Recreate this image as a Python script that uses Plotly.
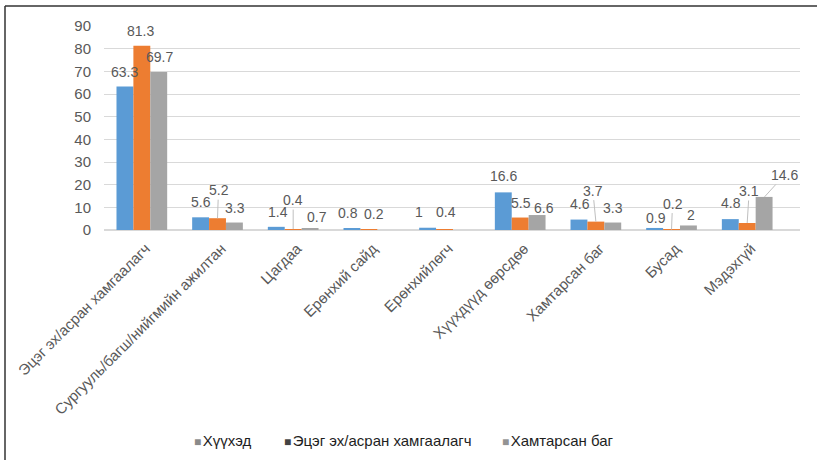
import plotly.graph_objects as go

# ---------------- data ----------------
categories = [
    "Эцэг эх/асран хамгаалагч",
    "Сургууль/багш/нийгмийн ажилтан",
    "Цагдаа",
    "Ерөнхий сайд",
    "Ерөнхийлөгч",
    "Хүүхдүүд өөрсдөө",
    "Хамтарсан баг",
    "Бусад",
    "Мэдэхгүй",
]
series_names = ["Хүүхэд", "Эцэг эх/асран хамгаалагч", "Хамтарсан баг"]
children = [63.3, 5.6, 1.4, 0.8, 1, 16.6, 4.6, 0.9, 4.8]
parents = [81.3, 5.2, 0.4, 0.2, 0.4, 5.5, 3.7, 0.2, 3.1]
team = [69.7, 3.3, 0.7, None, None, 6.6, 3.3, 2, 14.6]
y_ticks = [0, 10, 20, 30, 40, 50, 60, 70, 80, 90]

# ---------------- styles ----------------
bar_colors = ["#5B9BD5", "#ED7D31", "#A5A5A5"]
legend_colors = ["#8a8a8a", "#434343", "#939393"]
legend_px = [192, 282, 500]  # left edge of each legend item (px)
FONT = "Liberation Sans, Arial, sans-serif"
W, H = 817, 460
ML, MR, MT, MB = 104, 17, 26, 230
BAR_STEP = 17.3  # px between bar centres within a group

# label pixel offsets (dx from bar centre, dy above bar top, leader line flag)
label_dx = [
    [0, 1, 2, -4, -8, 1, 1, 2, 1],
    [-1, 1, 0, 5, 1, 1, -3, 1, 2],
    [0, 0, 7, 0, 0, 7, 0, 2, 20],
]
label_dy = [
    [15, 15, 15, 15, 16, 16, 16, 10, 16],
    [15, 28, 29, 16, 17, 15, 31, 26, 32],
    [15, 15, 11, 0, 0, 7, 15, 10, 22],
]
leader = [
    [0] * 9,
    [0, 1, 1, 0, 0, 0, 1, 1, 1],
    [0, 0, 0, 0, 0, 0, 0, 0, 1],
]

series = [children, parents, team]
fig = go.Figure()
for i, vals in enumerate(series):
    fig.add_trace(go.Bar(
        x=categories, y=vals, name=series_names[i],
        marker=dict(color=bar_colors[i], line=dict(width=0)),
        showlegend=False, hoverinfo="x+y",
    ))

pw = W - ML - MR
ph = H - MT - MB

annotations = []
for i, vals in enumerate(series):
    off = (i - 1) * BAR_STEP
    for j, v in enumerate(vals):
        if v is None:
            continue
        dx = label_dx[i][j]
        dy = label_dy[i][j]
        txt = f"{v:g}"
        if leader[i][j]:
            annotations.append(dict(
                x=categories[j], y=v, xref="x", yref="y",
                text=txt, showarrow=True, arrowhead=0, arrowwidth=1,
                arrowcolor="#bfbfbf", ax=dx, ay=-dy, xshift=off,
                font=dict(family=FONT, size=14, color="#595959"),
                standoff=0, startstandoff=0,
            ))
        else:
            annotations.append(dict(
                x=categories[j], y=v, xref="x", yref="y",
                text=txt, showarrow=False, xshift=off + dx, yshift=dy,
                yanchor="middle", xanchor="center",
                font=dict(family=FONT, size=14, color="#595959"),
            ))

# legend drawn as text items (square marker + name)
legend_y = -(440 - MT - ph) / ph
for i, nm in enumerate(series_names):
    annotations.append(dict(
        xref="paper", yref="paper", x=(legend_px[i] - ML) / pw, y=legend_y,
        xanchor="left", yanchor="middle", showarrow=False,
        text=f"<span style='color:{legend_colors[i]};font-size:12px'>■</span>"
             f"<span style='font-size:5px'> </span>"
             f"<span style='color:#1e1e1e'>{nm}</span>",
        font=dict(family=FONT, size=15, color="#1e1e1e"),
    ))

x_left = (5 - ML) / pw
x_right = (W - ML) / pw
y_top = 1 + (MT - 6) / ph
y_bot = -(MB) / ph

fig.update_layout(
    width=W, height=H,
    margin=dict(l=ML, r=MR, t=MT, b=MB, pad=0, autoexpand=False),
    paper_bgcolor="white", plot_bgcolor="white",
    barmode="group", bargap=0.33, bargroupgap=0,
    font=dict(family=FONT, size=14, color="#595959"),
    annotations=annotations,
    showlegend=False,
    shapes=[
        dict(type="line", xref="paper", yref="paper", x0=x_left, x1=x_right,
             y0=y_top, y1=y_top, line=dict(color="#333333", width=1.5)),
        dict(type="line", xref="paper", yref="paper", x0=x_left, x1=x_left,
             y0=y_top, y1=y_bot, line=dict(color="#333333", width=1.5)),
    ],
    xaxis=dict(
        tickangle=-45, showgrid=False, showline=True, linecolor="#d9d9d9",
        linewidth=1, ticks="", tickfont=dict(family=FONT, size=15, color="#595959"),
        ticklabelstandoff=3, ticklabelshift=4, automargin=False,
    ),
    yaxis=dict(
        range=[0, 90], tickvals=y_ticks, showgrid=True, gridcolor="#d9d9d9",
        gridwidth=1, zeroline=True, zerolinecolor="#d9d9d9", showline=False,
        ticks="", tickfont=dict(family=FONT, size=15, color="#595959"),
        ticklabelstandoff=12, automargin=False,
    ),
)

fig.write_html(
    "out.html",
    config={"displayModeBar": False},
    post_script="document.body.style.margin='0px';document.body.style.overflow='hidden';",
)
